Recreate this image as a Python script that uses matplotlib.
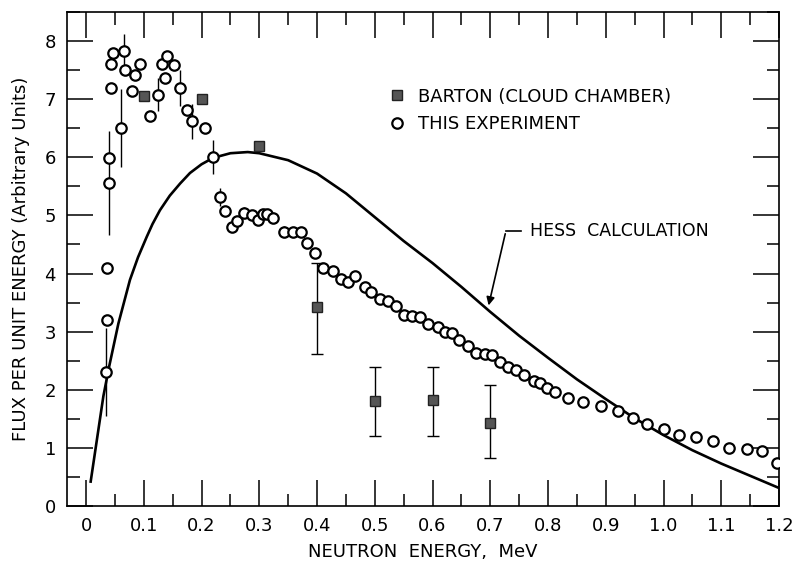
import numpy as np
import matplotlib.pyplot as plt
from matplotlib.ticker import MultipleLocator

# Hess calculation (solid curve)
hess_e = [0.008, 0.030, 0.040, 0.056, 0.076, 0.090, 0.105, 0.115, 0.128, 0.145,
          0.163, 0.18, 0.20, 0.22, 0.25, 0.28, 0.30, 0.35, 0.40, 0.45, 0.50,
          0.55, 0.60, 0.65, 0.70, 0.75, 0.80, 0.85, 0.90, 0.95, 1.00, 1.05,
          1.10, 1.15, 1.20]
hess_flux = [0.42, 1.89, 2.40, 3.14, 3.89, 4.28, 4.63, 4.85, 5.09, 5.34,
             5.55, 5.73, 5.88, 5.99, 6.07, 6.09, 6.07, 5.95, 5.72, 5.38, 4.97,
             4.56, 4.18, 3.77, 3.34, 2.93, 2.55, 2.18, 1.84, 1.51, 1.22, 0.96,
             0.73, 0.52, 0.31]

# Barton (cloud chamber)
barton_e = [0.1, 0.2, 0.3, 0.4, 0.5, 0.6, 0.7]
barton_flux = [7.06, 7.00, 6.20, 3.43, 1.81, 1.82, 1.42]
barton_lo = [0, 0, 0, 0.82, 0.61, 0.62, 0.60]
barton_hi = [0, 0, 0, 0.75, 0.59, 0.58, 0.67]

# this experiment (open circles)
exp_e = [0.035, 0.037, 0.036, 0.039, 0.039, 0.044, 0.044, 0.047, 0.060, 0.066,
         0.068, 0.079, 0.085, 0.094, 0.110, 0.124, 0.132, 0.136, 0.141, 0.153,
         0.162, 0.174, 0.183, 0.206, 0.219, 0.232, 0.241, 0.252, 0.261, 0.274,
         0.287, 0.298, 0.306, 0.314, 0.324, 0.342, 0.359, 0.373, 0.383, 0.397,
         0.410, 0.428, 0.442, 0.454, 0.466, 0.483, 0.494, 0.509, 0.523, 0.536,
         0.551, 0.564, 0.578, 0.592, 0.610, 0.622, 0.634, 0.646, 0.662, 0.675,
         0.691, 0.703, 0.717, 0.731, 0.745, 0.758, 0.775, 0.786, 0.799, 0.812,
         0.835, 0.860, 0.892, 0.921, 0.948, 0.971, 1.000, 1.027, 1.056, 1.086,
         1.113, 1.144, 1.170, 1.196]
exp_flux = [2.31, 3.20, 4.09, 5.56, 5.98, 7.20, 7.61, 7.80, 6.51, 7.83,
            7.50, 7.14, 7.41, 7.61, 6.71, 7.08, 7.61, 7.37, 7.74, 7.58,
            7.20, 6.82, 6.62, 6.50, 6.01, 5.32, 5.07, 4.80, 4.91, 5.05,
            5.00, 4.92, 5.03, 5.02, 4.95, 4.72, 4.72, 4.72, 4.53, 4.36,
            4.10, 4.05, 3.90, 3.85, 3.96, 3.77, 3.69, 3.57, 3.53, 3.44,
            3.28, 3.27, 3.25, 3.13, 3.08, 2.99, 2.98, 2.85, 2.75, 2.64,
            2.61, 2.60, 2.48, 2.40, 2.34, 2.25, 2.15, 2.11, 2.03, 1.96,
            1.86, 1.79, 1.72, 1.63, 1.51, 1.41, 1.32, 1.22, 1.19, 1.12,
            1.00, 0.98, 0.95, 0.74]
exp_err = [0.76, 0, 0, 0.90, 0, 0, 0, 0, 0.67, 0.30,
           0, 0, 0, 0, 0, 0.29, 0, 0, 0, 0,
           0.31, 0, 0.30, 0, 0.29, 0.15, 0, 0, 0, 0.10,
           0, 0, 0, 0, 0, 0.10, 0, 0, 0, 0,
           0, 0, 0, 0, 0, 0, 0, 0, 0, 0,
           0, 0, 0, 0, 0, 0, 0, 0, 0, 0,
           0, 0, 0, 0, 0, 0, 0, 0, 0, 0,
           0, 0, 0, 0, 0, 0, 0, 0, 0, 0,
           0, 0, 0, 0]

xtick_vals = [0, 0.1, 0.2, 0.3, 0.4, 0.5, 0.6, 0.7, 0.8, 0.9, 1.0, 1.1, 1.2]
xtick_labels = ["0", "0.1", "0.2", "0.3", "0.4", "0.5", "0.6", "0.7", "0.8",
                "0.9", "1.0", "1.1", "1.2"]

plt.rcParams['font.family'] = 'DejaVu Sans'
fig = plt.figure(figsize=(8.02, 5.67), dpi=100)
ax = fig.add_axes([67/802, 1 - 506/567, 712/802, 494/567])

ax.plot(hess_e, hess_flux, color='black', lw=1.9, zorder=2)

# error bars for the circles (no caps)
err = np.array(exp_err)
m = err > 0
ax.errorbar(np.array(exp_e)[m], np.array(exp_flux)[m], yerr=err[m], fmt='none',
            ecolor='black', elinewidth=1.0, capsize=0, zorder=1)
ax.plot(exp_e, exp_flux, 'o', ms=7.5, mfc='white', mec='black', mew=1.6,
        zorder=3, label='THIS EXPERIMENT')

# barton: bars only where there is an error, then the squares
blo = np.array(barton_lo)
bhi = np.array(barton_hi)
b = (blo + bhi) > 0
ax.errorbar(np.array(barton_e)[b], np.array(barton_flux)[b],
            yerr=[blo[b], bhi[b]], fmt='none', ecolor='black',
            elinewidth=1.0, capsize=4, capthick=1.0, zorder=4)
ax.plot(barton_e, barton_flux, 's', ms=7, mfc='#555555', mec='#222222',
        mew=1.0, zorder=5, label='BARTON (CLOUD CHAMBER)')

# hess label with leader line
tip_x = 0.696
tip_y = np.interp(tip_x, hess_e, hess_flux)
ax.annotate('', xy=(tip_x, tip_y + 0.03), xytext=(0.727, 4.73),
            arrowprops=dict(arrowstyle='-|>', color='black', lw=1.2,
                            mutation_scale=12))
ax.plot([0.727, 0.754], [4.73, 4.73], color='black', lw=1.2)
ax.text(0.768, 4.73, 'HESS  CALCULATION', fontsize=12.5, va='center',
        ha='left')

ax.set_xlim(-0.033, 1.2)
ax.set_ylim(0, 8.5)
ax.set_xticks(xtick_vals)
ax.set_xticklabels(xtick_labels)
ax.xaxis.set_minor_locator(MultipleLocator(0.05))
ax.yaxis.set_major_locator(MultipleLocator(1))
ax.yaxis.set_minor_locator(MultipleLocator(0.5))
ax.tick_params(which='both', direction='in', top=True, right=True,
               labelsize=13, width=1.1, pad=8)
ax.tick_params(which='major', length=19)
ax.tick_params(which='minor', length=9)
for s in ax.spines.values():
    s.set_linewidth(1.2)

ax.set_xlabel('NEUTRON  ENERGY,  MeV', fontsize=13, labelpad=6)
ax.set_ylabel('FLUX PER UNIT ENERGY (Arbitrary Units)', fontsize=13,
              labelpad=10)

h, l = ax.get_legend_handles_labels()
ax.legend([h[1], h[0]], [l[1], l[0]], loc='upper left',
          bbox_to_anchor=(0.425, 0.88), frameon=False, fontsize=13,
          handletextpad=0.6, labelspacing=0.55, handlelength=1.2,
          numpoints=1)

fig.savefig('out.png', dpi=100)
